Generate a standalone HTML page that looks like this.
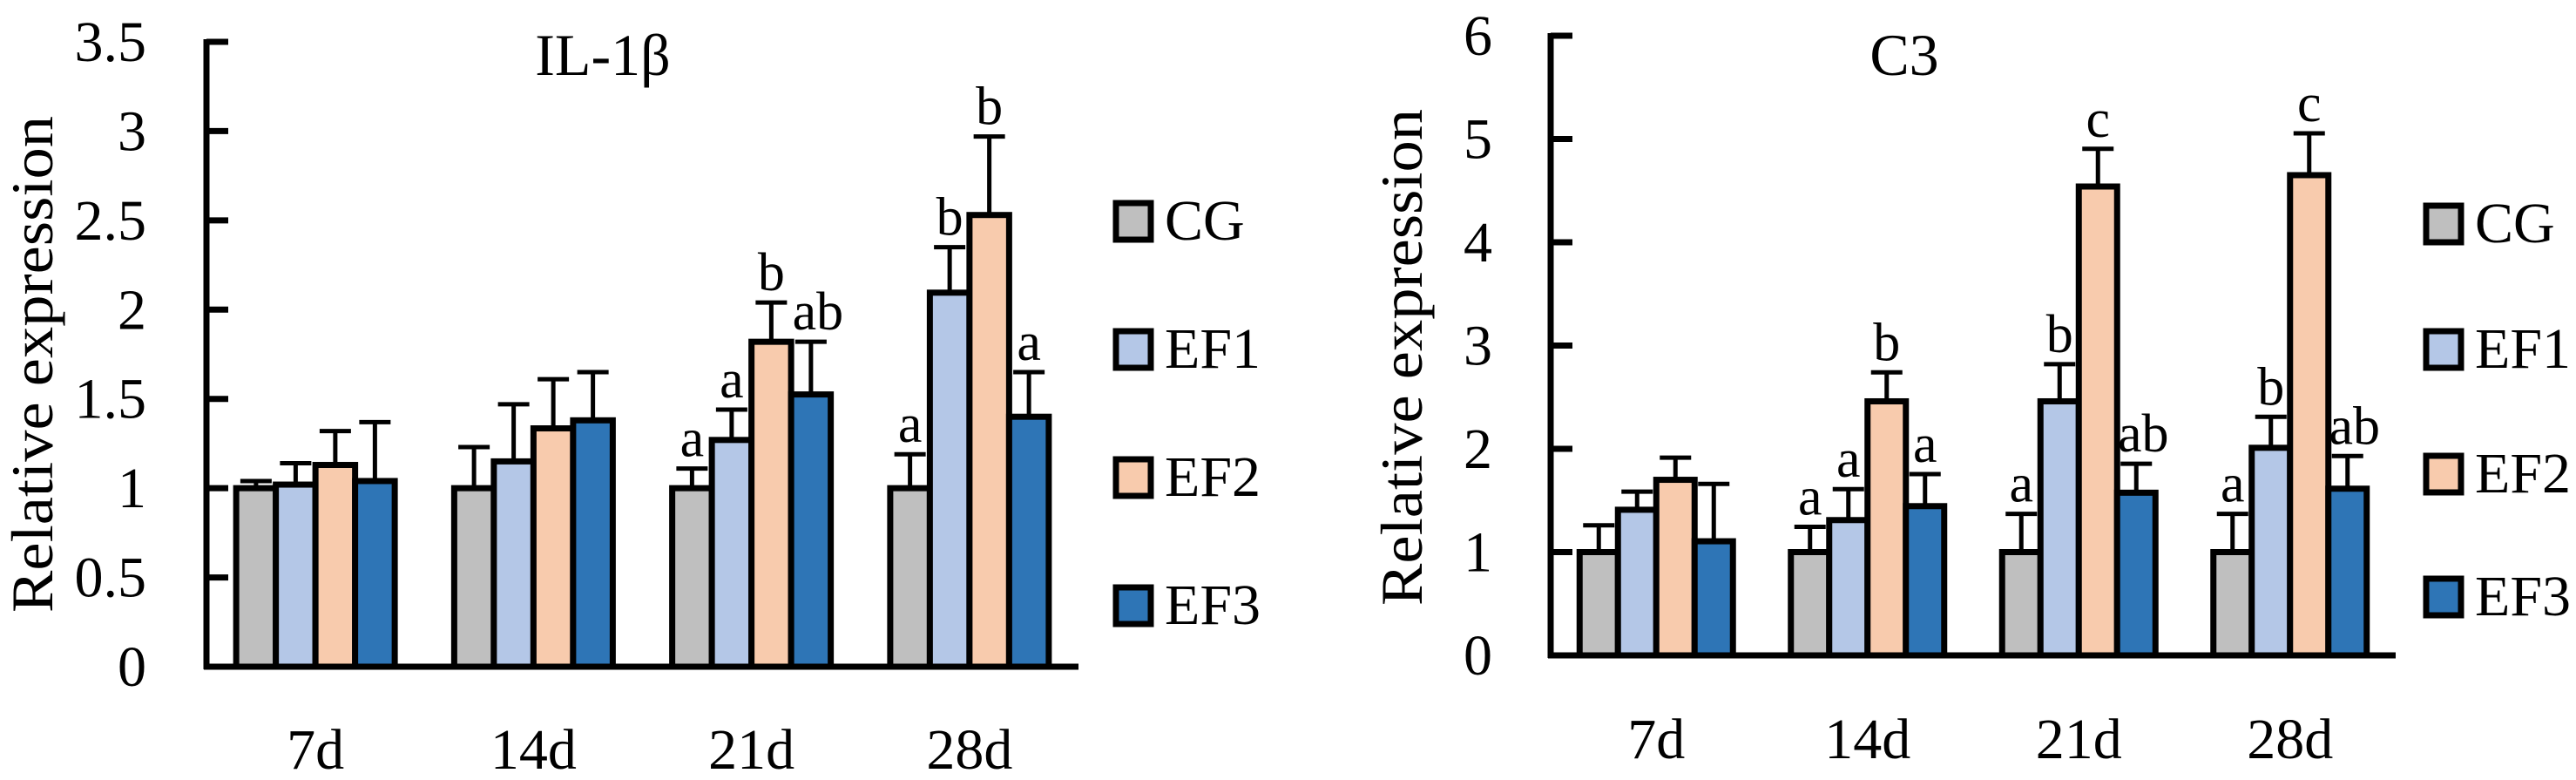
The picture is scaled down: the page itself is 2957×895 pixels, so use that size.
<!DOCTYPE html>
<html><head><meta charset="utf-8"><style>
html,body{margin:0;padding:0;background:#fff}
svg{display:block}
text{font-family:"Liberation Serif","DejaVu Serif",serif;fill:#000}
</style></head><body>
<svg id="c" width="2957" height="895" viewBox="0 0 2957 895" xmlns="http://www.w3.org/2000/svg"></svg>
<script>
const categories = ["7d","14d","21d","28d"];
const seriesNames = ["CG","EF1","EF2","EF3"];
const colors = ["#BFBFBF","#B4C7E7","#F8CBAD","#2E75B6"];
// IL-1β
const il1bCG = [1.0,1.0,1.0,1.0];
const il1bEF1 = [1.02,1.15,1.27,2.095];
const il1bEF2 = [1.13,1.335,1.82,2.53];
const il1bEF3 = [1.04,1.38,1.525,1.40];
const il1bErrCG = [0.04,0.23,0.11,0.19];
const il1bErrEF1 = [0.12,0.32,0.17,0.255];
const il1bErrEF2 = [0.19,0.275,0.22,0.44];
const il1bErrEF3 = [0.33,0.27,0.295,0.25];
const il1bLetters = [["","","",""],["","","",""],["a","a","b","ab"],["a","b","b","a"]];
const il1bTicks = ["0","0.5","1","1.5","2","2.5","3","3.5"];
// C3
const c3CG = [1.0,1.0,1.0,1.0];
const c3EF1 = [1.41,1.31,2.46,2.01];
const c3EF2 = [1.70,2.46,4.54,4.65];
const c3EF3 = [1.105,1.445,1.575,1.614];
const c3ErrCG = [0.26,0.245,0.37,0.37];
const c3ErrEF1 = [0.175,0.30,0.36,0.30];
const c3ErrEF2 = [0.215,0.28,0.365,0.405];
const c3ErrEF3 = [0.555,0.31,0.28,0.316];
const c3Letters = [["","","",""],["a","a","b","a"],["a","b","c","ab"],["a","b","c","ab"]];
const c3Ticks = ["0","1","2","3","4","5","6"];

const svg = document.getElementById('c');
const NS = "http://www.w3.org/2000/svg";
const FF = '"Liberation Serif","DejaVu Serif",serif';
function mk(tag, attrs, parent){
  const e = document.createElementNS(NS, tag);
  for (const k in attrs) e.setAttribute(k, attrs[k]);
  if (tag==='text') e.setAttribute('font-family', FF);
  (parent||svg).appendChild(e);
  return e;
}
function drawChart(cfg){
  const g = mk('g', {});
  
  
  const ymax = Number(cfg.ticks[cfg.ticks.length-1]);
  const yS = v => cfg.y0 - (v/ymax)*(cfg.y0-cfg.yTop);
  const catW = (cfg.xEnd-cfg.x0)/categories.length;
  const bw = cfg.bw;
  const vals=[cfg.cg,cfg.ef1,cfg.ef2,cfg.ef3];
  const errs=[cfg.ecg,cfg.eef1,cfg.eef2,cfg.eef3];
  categories.forEach((c,ci)=>{
    const cx = cfg.x0 + catW*(ci+0.5);
    const start = cx - bw*2;
    for(let s=0;s<4;s++){
      const x = start + s*bw;
      const y = yS(vals[s][ci]);
      const ey = yS(vals[s][ci]+errs[s][ci]);
      const xc = x+bw/2;
      const el = mk('line',{x1:xc,x2:xc,y1:y,y2:ey,stroke:'#000','stroke-width':5},g);
      
      
      const cap = mk('line',{x1:xc-18,x2:xc+18,y1:ey,y2:ey,stroke:'#000','stroke-width':5},g);
      
      
      const r = mk('rect',{x:x,y:y,width:bw,height:cfg.y0-y,fill:colors[s],stroke:'#000','stroke-width':7},g);
      
      
      const L = cfg.letters[ci][s];
      if(L){
        const t = mk('text',{x:xc+(L.length>1?8:0),y:ey-14,'font-size':62,'text-anchor':'middle'},g);
        t.textContent = L;
        
        
      }
    }
    const xl = mk('text',{x:cx,y:cfg.xLabY,'font-size':66,'text-anchor':'middle'},g);
    xl.textContent = c;
    
    
  });
  const ax = mk('line',{x1:cfg.x0,x2:cfg.x0,y1:cfg.yTop-3,y2:cfg.y0+3,stroke:'#000','stroke-width':7},g);
  
  
  const xa = mk('line',{x1:cfg.x0-3,x2:cfg.xEnd,y1:cfg.y0,y2:cfg.y0,stroke:'#000','stroke-width':7},g);
  
  
  cfg.ticks.forEach(tk=>{
    const y = yS(Number(tk));
    const tl = mk('line',{x1:cfg.x0,x2:cfg.x0+25,y1:y,y2:y,stroke:'#000','stroke-width':7},g);
    
    
    const t = mk('text',{x:cfg.tickX,y:y+22,'font-size':66,'text-anchor':'end'},g);
    t.textContent = tk;
    
    
  });
  const yt = mk('text',{x:0,y:0,'font-size':68,'text-anchor':'middle',textLength:570,lengthAdjust:'spacingAndGlyphs',transform:`translate(${cfg.yLabX},${cfg.yLabY}) rotate(-90)`},g);
  yt.textContent = 'Relative expression';
  
  
  const tt = mk('text',{x:cfg.titleX,y:86,'font-size':68,'text-anchor':'middle'},g);
  tt.textContent = cfg.title;
  
  
  seriesNames.forEach((n,i)=>{
    const y = cfg.legY[i];
    const r = mk('rect',{x:cfg.legX,y:y,width:40,height:42,fill:colors[i],stroke:'#000','stroke-width':7},g);
    
    
    const t = mk('text',{x:cfg.legX+56,y:y+42,'font-size':66},g);
    t.textContent = n;
    
    
  });
}
drawChart({name:'il1b-chart',title:'IL-1β',x0:237,xEnd:1238,y0:765,yTop:48,bw:45.5,
  cg:il1bCG,ef1:il1bEF1,ef2:il1bEF2,ef3:il1bEF3,ecg:il1bErrCG,eef1:il1bErrEF1,eef2:il1bErrEF2,eef3:il1bErrEF3,
  letters:il1bLetters,ticks:il1bTicks,tickX:168,xLabY:882,yLabX:60,yLabY:418,titleX:692,
  legX:1281,legY:[233,380,527,674]});
drawChart({name:'c3-chart',title:'C3',x0:1780,xEnd:2750,y0:752,yTop:41,bw:44,
  cg:c3CG,ef1:c3EF1,ef2:c3EF2,ef3:c3EF3,ecg:c3ErrCG,eef1:c3ErrEF1,eef2:c3ErrEF2,eef3:c3ErrEF3,
  letters:c3Letters,ticks:c3Ticks,tickX:1713,xLabY:870,yLabX:1632,yLabY:410,titleX:2186,
  legX:2785,legY:[236,380,523,664]});
</script>
</body></html>
